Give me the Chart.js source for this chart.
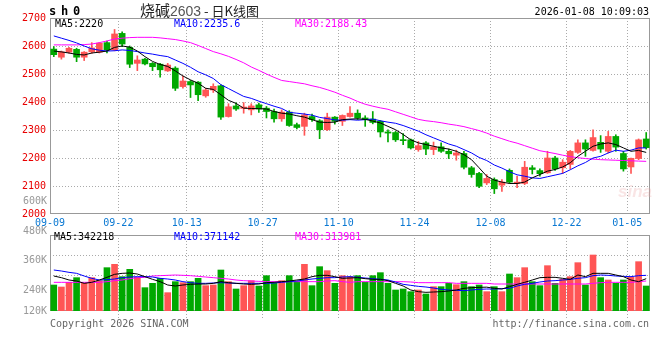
<!DOCTYPE html>
<html>
<head>
<meta charset="utf-8">
<script src="https://cdn.jsdelivr.net/npm/chart.js@4.4.1/dist/chart.umd.min.js"></script>
<style>
  body { margin: 0; background: #fff; width: 660px; height: 360px; position: relative; overflow: hidden; font-family: "DejaVu Sans Mono", monospace; }
  canvas { position: absolute; left: 0; }
  #priceChart { top: 0; }
  #volChart { top: 190px; }
  .t { position: absolute; font-size: 10px; line-height: 12px; white-space: pre; }
</style>
</head>
<body>
<canvas id="priceChart" width="660" height="230"></canvas>
<canvas id="volChart" width="660" height="150"></canvas>

<div class="t" style="left:49px;top:5px;font-size:12px;font-weight:bold;letter-spacing:4.8px">sh0</div>
<div class="t" style="left:140px;top:2px;font-size:15px;line-height:16px;font-family:'Noto Sans CJK SC',sans-serif;color:#222">烧碱<span style="font-family:'Liberation Sans',sans-serif;font-size:14px;color:#555">2603</span><span style="font-size:13px"> - 日K线图</span></div>
<div class="t" style="right:11px;top:6px;color:#000">2026-01-08 10:09:03</div>

<div class="t" style="left:55px;top:18px;color:#000">MA5:2220</div>
<div class="t" style="left:174px;top:18px;color:#0000ff">MA10:2235.6</div>
<div class="t" style="left:295px;top:18px;color:#ff00ff">MA30:2188.43</div>

<div class="t" style="left:54px;top:231px;color:#000">MA5:342218</div>
<div class="t" style="left:174px;top:231px;color:#0000ff">MA10:371142</div>
<div class="t" style="left:295px;top:231px;color:#ff00ff">MA30:313981</div>

<div class="t" style="left:618px;top:186px;font-family:'Liberation Sans',sans-serif;font-size:17px;font-style:italic;font-weight:bold;color:rgba(235,170,170,0.3)">sina</div>

<div class="t" style="left:50px;top:318px;color:#666">Copyright 2026 SINA.COM</div>
<div class="t" style="right:11px;top:318px;color:#666">http://finance.sina.com.cn</div>

<script>
// 日期（交易日）
const dates = ["09-09","09-10","09-11","09-12","09-15","09-16","09-17","09-18","09-19","09-22",
  "09-23","09-24","09-25","09-26","09-29","09-30","10-09","10-10","10-13","10-14",
  "10-15","10-16","10-17","10-20","10-21","10-22","10-23","10-24","10-27","10-28",
  "10-29","10-30","10-31","11-03","11-04","11-05","11-06","11-07","11-10","11-11",
  "11-12","11-13","11-14","11-17","11-18","11-19","11-20","11-21","11-24","11-25",
  "11-26","11-27","11-28","12-01","12-02","12-03","12-04","12-05","12-08","12-09",
  "12-10","12-11","12-12","12-15","12-16","12-17","12-18","12-19","12-22","12-23",
  "12-24","12-25","12-26","12-29","12-30","12-31","01-05","01-06","01-07"];
const labeledDates = ["09-09","09-22","10-13","10-27","11-10","11-24","12-08","12-22","01-05"];

// K线
const openP = [2589,2560,2578,2588,2560,2579,2578,2612,2586,2645,
  2595,2538,2553,2538,2535,2511,2521,2455,2473,2471,
  2422,2443,2458,2348,2386,2377,2372,2390,2378,2366,
  2340,2364,2319,2313,2348,2333,2301,2346,2331,2348,
  2360,2343,2339,2331,2293,2291,2265,2265,2230,2254,
  2230,2240,2224,2210,2216,2165,2145,2111,2123,2103,
  2156,2109,2109,2165,2155,2147,2200,2165,2177,2220,
  2254,2227,2256,2224,2277,2216,2168,2198,2268];
const highP = [2598,2582,2595,2592,2580,2612,2612,2618,2659,2651,
  2600,2565,2556,2541,2538,2538,2526,2493,2477,2473,
  2449,2465,2461,2394,2397,2398,2394,2396,2384,2375,
  2372,2369,2325,2360,2357,2337,2360,2348,2354,2384,
  2372,2351,2366,2334,2301,2295,2287,2268,2259,2259,
  2257,2254,2232,2228,2224,2170,2149,2141,2129,2123,
  2161,2135,2188,2173,2161,2224,2206,2194,2227,2265,
  2265,2301,2280,2295,2283,2224,2200,2268,2291];
const lowP = [2562,2553,2574,2544,2548,2574,2575,2575,2583,2598,
  2523,2512,2532,2512,2489,2509,2441,2449,2416,2405,
  2417,2434,2338,2346,2370,2360,2354,2363,2343,2328,
  2331,2313,2304,2281,2331,2269,2298,2321,2316,2346,
  2337,2313,2322,2275,2257,2259,2248,2232,2224,2212,
  2212,2220,2198,2192,2161,2131,2094,2105,2073,2081,
  2109,2094,2105,2143,2135,2145,2156,2145,2161,2216,
  2206,2224,2220,2218,2224,2153,2145,2194,2232];
const closeP = [2569,2579,2592,2560,2578,2593,2610,2586,2643,2607,
  2535,2550,2536,2526,2515,2532,2449,2475,2461,2426,
  2443,2456,2346,2383,2375,2382,2386,2375,2366,2340,
  2364,2316,2309,2354,2337,2301,2346,2331,2352,2360,
  2343,2337,2327,2293,2289,2265,2262,2236,2244,2232,
  2240,2224,2215,2218,2167,2141,2099,2127,2090,2114,
  2114,2114,2167,2159,2144,2200,2161,2185,2224,2254,
  2232,2273,2232,2277,2239,2161,2199,2265,2237];

// 均线
const ma5 = [2582,2579,2575,2570,2568,2575,2578,2582,2595,2600,
  2596,2582,2562,2545,2534,2527,2511,2493,2479,2467,
  2449,2445,2426,2406,2395,2378,2377,2376,2375,2366,
  2360,2357,2351,2346,2337,2328,2327,2328,2337,2339,
  2340,2338,2332,2325,2313,2301,2284,2265,2254,2248,
  2242,2236,2232,2224,2212,2194,2165,2135,2121,2114,
  2109,2109,2114,2129,2141,2153,2159,2168,2183,2206,
  2224,2242,2250,2254,2248,2236,2224,2227,2220];
const ma10 = [2636,2628,2620,2611,2600,2590,2585,2582,2583,2586,
  2584,2580,2575,2571,2566,2562,2550,2538,2524,2508,
  2497,2484,2462,2448,2434,2420,2413,2403,2394,2385,
  2377,2363,2360,2357,2353,2345,2341,2336,2335,2337,
  2335,2337,2339,2333,2328,2324,2316,2306,2296,2283,
  2272,2261,2250,2242,2230,2218,2202,2191,2175,2164,
  2151,2140,2135,2129,2127,2133,2139,2145,2158,2172,
  2184,2200,2206,2218,2228,2224,2228,2236,2236];
const ma30 = [2604,2604,2604,2604,2605,2607,2612,2618,2625,2628,
  2630,2631,2631,2631,2629,2626,2623,2618,2612,2602,
  2591,2580,2572,2563,2552,2540,2525,2513,2500,2488,
  2477,2473,2469,2465,2458,2452,2444,2435,2424,2414,
  2402,2392,2385,2379,2374,2365,2356,2347,2338,2333,
  2330,2326,2321,2317,2312,2305,2298,2289,2278,2269,
  2260,2253,2244,2235,2226,2221,2216,2210,2205,2201,
  2198,2196,2194,2193,2192,2191,2190,2189,2188];

// 成交量
const volume = [180000,168000,196000,224000,190000,224000,206000,284000,304000,230000,
  274000,226000,164000,190000,220000,134000,200000,194000,200000,220000,
  176000,180000,270000,200000,156000,176000,206000,174000,236000,190000,
  206000,236000,200000,304000,176000,290000,266000,190000,236000,230000,
  236000,196000,236000,254000,190000,150000,156000,140000,150000,126000,
  170000,170000,190000,182000,200000,170000,180000,140000,170000,140000,
  246000,224000,284000,200000,176000,296000,190000,214000,230000,314000,
  180000,360000,224000,210000,190000,210000,226000,320000,174000];
const volMa5 = [234000,224000,210000,204000,190000,196000,210000,226000,244000,250000,
  252000,246000,230000,214000,200000,180000,174000,180000,184000,186000,
  186000,190000,200000,194000,190000,186000,184000,186000,194000,196000,
  200000,204000,210000,216000,230000,238000,238000,230000,220000,222000,
  224000,218000,214000,214000,206000,190000,174000,150000,140000,136000,
  138000,140000,144000,150000,160000,164000,166000,167000,160000,156000,
  170000,184000,196000,210000,224000,226000,226000,220000,214000,240000,
  230000,250000,250000,250000,240000,230000,210000,200000,218000];
const volMa10 = [270000,264000,256000,250000,234000,220000,210000,212000,216000,224000,
  228000,230000,230000,228000,220000,216000,210000,200000,194000,190000,
  190000,192000,194000,192000,190000,190000,190000,190000,190000,192000,
  196000,200000,204000,210000,216000,220000,224000,224000,228000,230000,
  226000,222000,218000,214000,210000,198000,184000,178000,172000,168000,
  162000,154000,150000,148000,146000,150000,154000,156000,156000,158000,
  160000,174000,184000,190000,198000,204000,206000,210000,214000,220000,
  224000,236000,240000,238000,234000,232000,230000,236000,238000];
const volMa30 = [196000,196000,196000,196000,196000,196000,196000,200000,206000,210000,
  218000,224000,226000,234000,236000,238000,240000,238000,236000,232000,
  228000,224000,220000,216000,210000,206000,204000,202000,200000,200000,
  200000,200000,200000,200000,200000,200000,204000,206000,200000,196000,
  200000,200000,200000,200000,200000,200000,200000,198000,194000,194000,
  194000,194000,194000,190000,190000,190000,190000,190000,186000,186000,
  186000,186000,186000,186000,186000,186000,186000,186000,186000,186000,
  186000,190000,194000,196000,196000,196000,196000,200000,204000];

// 刻度
const priceTicks = [2000,2100,2200,2300,2400,2500,2600,2700];
const volGridVals = [120000,240000,360000];
const volLabelVals = [600000,480000,360000,240000,120000];

const RED = "#ff5555";
const GREEN = "#00a800";
const GRID = "#aaaaaa";
const FONT = { family: "DejaVu Sans Mono", size: 10 };
const candleColor = closeP.map((c, i) => c >= openP[i] ? RED : GREEN);

const xGridColor = ctx => (ctx.index > 0 && labeledDates.includes(dates[ctx.index])) ? GRID : "rgba(0,0,0,0)";

// 边框
const framePlugin = {
  id: "frame",
  beforeDatasetsDraw(chart) {
    const { ctx, chartArea: a } = chart;
    ctx.save();
    ctx.strokeStyle = "#999";
    ctx.lineWidth = 1;
    ctx.strokeRect(Math.round(a.left) + 0.5, Math.round(a.top) + 0.5,
      Math.round(a.right - a.left) - 1, Math.round(a.bottom - a.top) - 1);
    ctx.restore();
  }
};

// 成交量刻度文字
const volLabelPlugin = {
  id: "volLabels",
  afterDraw(chart) {
    const { ctx, chartArea: a } = chart;
    const s = chart.scales.yLab;
    ctx.save();
    ctx.fillStyle = "#999";
    ctx.font = "10px 'DejaVu Sans Mono'";
    ctx.textAlign = "right";
    ctx.textBaseline = "middle";
    volLabelVals.forEach(v => {
      const y = Math.min(s.getPixelForValue(v), a.bottom);
      ctx.fillText((v / 1000) + "K", a.left - 3, y);
    });
    ctx.restore();
  }
};

const lineDs = (data, color) => ({
  type: "line", data, borderColor: color, borderWidth: 1, pointRadius: 0, tension: 0, order: 0
});

new Chart(document.getElementById("priceChart"), {
  data: {
    labels: dates,
    datasets: [
      { type: "bar", data: lowP.map((l, i) => [l, highP[i]]), backgroundColor: candleColor, barThickness: 1, grouped: false, order: 2 },
      { type: "bar", data: openP.map((o, i) => [o, closeP[i]]), backgroundColor: candleColor, barThickness: 6, minBarLength: 1, grouped: false, order: 1 },
      lineDs(ma5, "#000000"),
      lineDs(ma10, "#0000ff"),
      lineDs(ma30, "#ff00ff")
    ]
  },
  options: {
    responsive: false,
    animation: false,
    layout: { padding: { left: 0, right: 10, top: 18, bottom: 0 } },
    plugins: { legend: { display: false }, tooltip: { enabled: false } },
    scales: {
      x: {
        type: "category", offset: true,
        grid: { offset: true, color: xGridColor, drawTicks: false },
        border: { display: false, dash: [1, 2] },
        ticks: {
          autoSkip: false, maxRotation: 0, padding: 3, labelOffset: -3.8,
          color: "#0a78d2", font: FONT,
          callback: (v, i) => labeledDates.includes(dates[i]) ? dates[i] : ""
        },
        afterFit: s => { s.height = 16; }
      },
      y: {
        min: 2000, max: 2700,
        afterBuildTicks: s => { s.ticks = priceTicks.map(v => ({ value: v })); },
        grid: { color: ctx => (ctx.tick && ctx.tick.value > 2000 && ctx.tick.value < 2700) ? GRID : "rgba(0,0,0,0)", drawTicks: false },
        border: { display: false, dash: [1, 2] },
        ticks: { color: "#e80000", padding: 4, font: FONT, callback: v => String(v) },
        afterFit: s => { s.width = 50; }
      }
    }
  },
  plugins: [framePlugin]
});

new Chart(document.getElementById("volChart"), {
  data: {
    labels: dates,
    datasets: [
      { type: "bar", data: volume, backgroundColor: candleColor, barThickness: 6, grouped: false, order: 1 },
      lineDs(volMa5, "#000000"),
      lineDs(volMa10, "#0000ff"),
      lineDs(volMa30, "#ff00ff")
    ]
  },
  options: {
    responsive: false,
    animation: false,
    layout: { padding: { left: 0, right: 10, top: 45, bottom: 0 } },
    plugins: { legend: { display: false }, tooltip: { enabled: false } },
    scales: {
      x: {
        type: "category", offset: true,
        grid: { offset: true, color: xGridColor, tickColor: xGridColor, drawTicks: true, tickLength: 7, tickBorderDash: [1, 2] },
        border: { display: false, dash: [1, 2] },
        ticks: { display: false },
        afterFit: s => { s.height = 29; }
      },
      y: {
        min: 24000, max: 480000,
        afterBuildTicks: s => { s.ticks = volGridVals.map(v => ({ value: v })); },
        grid: { color: GRID, drawTicks: false },
        border: { display: false, dash: [1, 2] },
        ticks: { display: false },
        afterFit: s => { s.width = 50; }
      },
      yLab: { type: "linear", axis: "y", position: "left", display: false, min: 158400, max: 464000 }
    }
  },
  plugins: [framePlugin, volLabelPlugin]
});
</script>
</body>
</html>
